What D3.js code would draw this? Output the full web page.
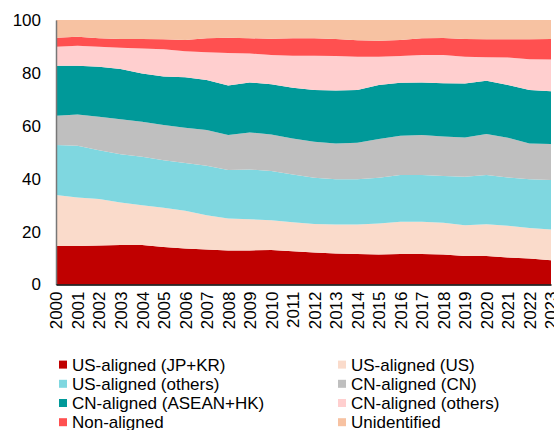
<!DOCTYPE html>
<html>
<head>
<meta charset="utf-8">
<script src="https://cdn.jsdelivr.net/npm/d3@7"></script>
<style>
  body { margin: 0; background: #fff; }
  svg text { font-family: "Liberation Sans", Arial, sans-serif; fill: #000; }
</style>
</head>
<body>
<svg id="chart" width="554" height="430"></svg>
<script>
// years on the x axis
const years = d3.range(2000, 2024);

// shares (%) per group, bottom to top
const usJpKr      = [14.6,14.6,14.7,14.9,14.9,14.2,13.6,13.2,12.9,12.9,13.0,12.6,12.1,11.7,11.5,11.3,11.5,11.5,11.3,10.8,10.8,10.2,9.8,9.2];
const usUs        = [19.2,18.3,17.6,16.1,15.1,14.8,14.3,13.0,12.1,11.8,11.3,10.9,10.8,11.0,11.2,11.8,12.2,12.2,12.0,11.6,12.0,12.0,11.6,11.6];
const usOthers    = [18.9,19.6,18.5,18.2,18.3,18.0,18.0,18.7,18.3,18.8,18.6,18.1,17.5,17.1,17.1,17.3,17.7,17.7,17.7,18.3,18.6,18.3,18.4,18.7];
const cnCn        = [11.1,11.8,12.6,13.3,13.2,13.3,13.4,13.5,13.2,14.0,13.8,13.6,13.6,13.5,13.8,14.6,14.8,15.1,15.0,14.9,15.5,15.0,13.5,13.6];
const cnAsean     = [18.9,18.4,18.9,19.0,18.3,18.3,19.1,18.9,18.7,18.9,19.0,19.2,19.5,20.0,19.9,20.4,20.1,19.9,20.1,20.4,20.1,19.9,20.2,20.0];
const cnOthers    = [7.2,7.6,7.6,8.0,9.4,10.3,9.8,10.5,12.3,10.9,11.1,12.1,13.0,13.1,12.6,10.7,10.1,10.4,10.7,10.1,8.9,10.4,11.7,12.0];
const nonAligned  = [3.4,3.4,3.2,3.3,3.6,3.8,4.2,5.3,5.8,5.8,6.1,6.6,6.6,6.4,6.2,6.1,6.0,6.3,6.4,6.7,6.8,6.9,7.5,7.7];
const unidentified= [6.7,6.3,6.9,7.2,7.2,7.3,7.6,6.9,6.7,6.9,7.1,6.9,6.9,7.2,7.7,7.8,7.6,6.9,6.8,7.2,7.3,7.3,7.3,7.2];

const seriesNames = ["US-aligned (JP+KR)", "US-aligned (US)", "US-aligned (others)", "CN-aligned (CN)",
                     "CN-aligned (ASEAN+HK)", "CN-aligned (others)", "Non-aligned", "Unidentified"];
const seriesValues = [usJpKr, usUs, usOthers, cnCn, cnAsean, cnOthers, nonAligned, unidentified];
const colors = ["#C00000", "#FADBCB", "#7FD7E0", "#BFBFBF", "#009999", "#FFCFCF", "#FF5050", "#F7C2A2"];

const yTicks = [0, 20, 40, 60, 80, 100];

const svg = d3.select("#chart");
const plotLeft = 56, plotRight = 551, plotTop = 20, plotBottom = 284.5;

const x = d3.scaleLinear().domain([2000, 2023]).range([plotLeft, plotRight]);
const y = d3.scaleLinear().domain([0, 100]).range([plotBottom, plotTop]);

// table for the stack
const table = years.map((yr, i) => {
  const row = { year: yr };
  seriesNames.forEach((n, k) => { row[n] = seriesValues[k][i]; });
  return row;
});

const stacked = d3.stack().keys(seriesNames)(table);

const area = d3.area()
  .x(d => x(d.data.year))
  .y0(d => y(d[0]))
  .y1(d => y(d[1]));

svg.append("g").selectAll("path")
  .data(stacked)
  .enter()
  .append("path")
  .attr("d", area)
  .attr("fill", (d, i) => colors[i]);

// y axis
const yAxis = svg.append("g")
  .attr("transform", "translate(" + plotLeft + ",0)")
  .call(d3.axisLeft(y).tickValues(yTicks).tickSize(0).tickPadding(15));
yAxis.select(".domain").attr("stroke", "#777").attr("stroke-width", 1.5);
yAxis.selectAll("text").style("font-size", "17px");

// x axis
const xAxis = svg.append("g")
  .attr("transform", "translate(0," + plotBottom + ")")
  .call(d3.axisBottom(x).tickValues(years).tickFormat(d3.format("d")).tickSize(0));
xAxis.select(".domain").attr("stroke", "#000").attr("stroke-width", 1.5);
xAxis.selectAll("text")
  .style("font-size", "17px")
  .attr("text-anchor", "end")
  .attr("transform", "rotate(-90)")
  .attr("x", -7)
  .attr("y", 0)
  .attr("dy", "0.35em");

// legend, two columns, row by row
const legend = svg.append("g");
seriesNames.forEach((name, k) => {
  const col = k % 2, row = Math.floor(k / 2);
  const gx = col === 0 ? 59 : 338;
  const gy = 364.6 + row * 19.2;
  legend.append("rect")
    .attr("x", gx).attr("y", gy - 4)
    .attr("width", 8).attr("height", 8)
    .attr("fill", colors[k]);
  legend.append("text")
    .attr("x", gx + 13).attr("y", gy)
    .attr("dy", "0.35em")
    .style("font-size", "17px")
    .text(name);
});
</script>
</body>
</html>
